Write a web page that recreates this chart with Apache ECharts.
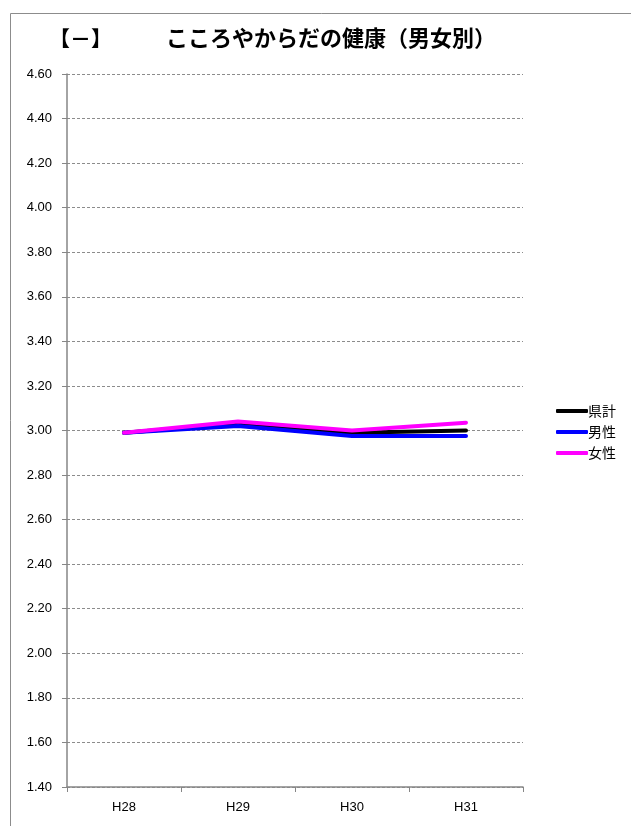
<!DOCTYPE html>
<html><head><meta charset="utf-8">
<script src="https://cdn.jsdelivr.net/npm/echarts@6/dist/echarts.min.js"></script>
<style>html,body{margin:0;padding:0;background:#fff}#c{width:631px;height:826px}</style>
</head><body><div id="c"></div>
<script>
const categories = ['H28', 'H29', 'H30', 'H31'];
const seriesNames = ['県計', '男性', '女性'];
const total = [2.99, 3.03, 2.99, 3.00];
const male = [2.99, 3.02, 2.975, 2.975];
const female = [2.99, 3.04, 3.00, 3.035];
const yTicks = [1.4, 1.6, 1.8, 2.0, 2.2, 2.4, 2.6, 2.8, 3.0, 3.2, 3.4, 3.6, 3.8, 4.0, 4.2, 4.4, 4.6];
const colors = ['#000000', '#0000ff', '#ff00ff'];
const values = [total, male, female];

const chart = echarts.init(document.getElementById('c'));
const jp = '"Noto Sans CJK JP", sans-serif';
chart.setOption({
  animation: false,
  graphic: [{
    type: 'rect', left: 8, top: 11, shape: {width: 700, height: 900},
    style: {fill: 'none', stroke: '#8c8c8c', lineWidth: 1}, silent: true
  }],
  title: [
    {text: '【－】', left: 44, top: 23, textStyle: {fontFamily: jp, fontSize: 21, fontWeight: 'bold', color: '#000'}},
    {text: 'こころやからだの健康（男女別）', left: 161, top: 22, textStyle: {fontFamily: jp, fontSize: 22, fontWeight: 'bold', color: '#000'}}
  ],
  legend: {
    orient: 'vertical', left: 551, top: 399, itemWidth: 32, itemHeight: 4, itemGap: 7,
    icon: 'roundRect',
    data: seriesNames,
    textStyle: {fontFamily: jp, fontSize: 14, color: '#000', padding: [0, 0, 0, -5]}
  },
  grid: {left: 67, right: 108, top: 74, bottom: 39},
  xAxis: {
    type: 'category', data: categories, boundaryGap: true,
    axisLine: {lineStyle: {color: '#868686', width: 1.5}},
    axisTick: {show: true, length: 5, lineStyle: {color: '#868686'}},
    axisLabel: {fontFamily: '"Liberation Sans", sans-serif', fontSize: 13, color: '#000', margin: 14}
  },
  yAxis: {
    type: 'value', min: 1.4, max: 4.6, interval: 0.2,
    axisLine: {show: true, lineStyle: {color: '#868686', width: 1.5}},
    axisTick: {show: true, length: 5, lineStyle: {color: '#868686'}},
    splitLine: {lineStyle: {color: '#8c8c8c', type: [3, 2], width: 1}},
    axisLabel: {fontFamily: '"Liberation Sans", sans-serif', fontSize: 13, color: '#000', margin: 15,
      formatter: v => v.toFixed(2)}
  },
  series: seriesNames.map((n, i) => ({
    name: n, type: 'line', data: values[i], symbol: 'none',
    lineStyle: {color: colors[i], width: 4, cap: 'round', join: 'round'},
    itemStyle: {color: colors[i]}
  }))
});
</script></body></html>
